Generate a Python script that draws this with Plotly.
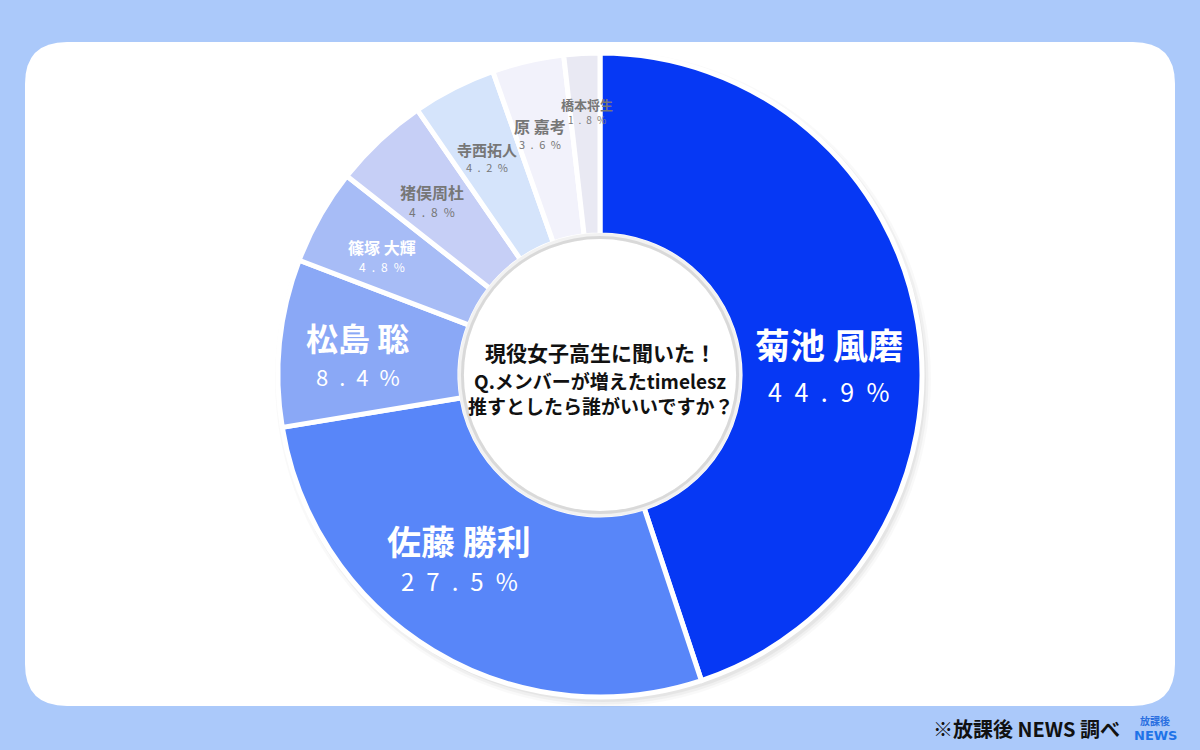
import math
import plotly.graph_objects as go

# ---- data ----
names = ["菊池 風磨", "佐藤 勝利", "松島 聡", "篠塚 大輝", "猪俣周杜", "寺西拓人", "原 嘉考", "橋本将生"]
shares = [44.9, 27.5, 8.4, 4.8, 4.8, 4.2, 3.6, 1.8]
center_lines = ["現役女子高生に聞いた！", "Q.メンバーが増えたtimelesz", "推すとしたら誰がいいですか？"]
source_note = "※放課後 NEWS 調べ"

# ---- style ----
colors = ["#0638f4", "#5886f9", "#8aa8f6", "#a7bcf6", "#c6cff6", "#d5e4fb", "#f2f2fb", "#e9e9f3"]
name_sizes = [35, 34, 32, 16, 16, 15, 16, 13]
pct_sizes = [25, 24, 22, 12, 12, 11, 11, 10]
text_colors = ["white", "white", "white", "white", "#777777", "#777777", "#777777", "#777777"]
label_r = [229, 233, 243, 248, 241, 244, 247, 263]
label_dtheta = [7.2, 6.0, -1.5, -1.1, -1.0, -0.6, -1.0, 0.4]
name_dy = [-24, -20, -20, -10, -10, -9, -9, -8]
pct_dy = [24, 20, 19, 10, 9, 8, 9, 7]

W, H = 1200, 750
CX, CY, R = 600, 375, 322
HOLE = 0.435
FONT = "Noto Sans CJK JP"
EN = "\u2002"


def spaced(s):
    return EN.join(list(s))


fig = go.Figure()
fig.add_trace(go.Pie(
    labels=names, values=shares, sort=False, direction="clockwise", rotation=0,
    hole=HOLE, marker=dict(colors=colors, line=dict(color="white", width=5)),
    textinfo="none", hoverinfo="label+percent", showlegend=False,
    domain=dict(x=[(CX - R) / W, (CX + R) / W], y=[1 - (CY + R) / H, 1 - (CY - R) / H]),
))

ann = []
total = sum(shares)
cum = 0.0
for i, v in enumerate(shares):
    mid = (cum + v / 2) / total * 360 + label_dtheta[i]
    cum += v
    px = CX + label_r[i] * math.sin(math.radians(mid))
    py = CY - label_r[i] * math.cos(math.radians(mid))
    ann.append(dict(x=px / W, y=1 - (py + name_dy[i]) / H, xref="paper", yref="paper",
                    text="<b>" + names[i] + "</b>", showarrow=False,
                    font=dict(family=FONT, size=name_sizes[i], color=text_colors[i]),
                    xanchor="center", yanchor="middle"))
    ann.append(dict(x=px / W, y=1 - (py + pct_dy[i]) / H, xref="paper", yref="paper",
                    text=spaced(f"{v:.1f}%"), showarrow=False,
                    font=dict(family=FONT, size=pct_sizes[i], color=text_colors[i]),
                    xanchor="center", yanchor="middle"))

for k, (line, yy, sz) in enumerate(zip(center_lines, [352, 380, 405], [21, 19, 19])):
    ann.append(dict(x=0.5, y=1 - yy / H, xref="paper", yref="paper", text="<b>" + line + "</b>",
                    showarrow=False, font=dict(family=FONT, size=sz, color="#111111"),
                    xanchor="center", yanchor="middle"))

ann.append(dict(x=1122 / W, y=1 - 728 / H, xref="paper", yref="paper", text="<b>" + source_note + "</b>",
                showarrow=False, font=dict(family=FONT, size=20, color="#111111"),
                xanchor="right", yanchor="middle"))
ann.append(dict(x=1155 / W, y=1 - 720 / H, xref="paper", yref="paper", text="<b>放課後</b>",
                showarrow=False, font=dict(family=FONT, size=10, color="#2a6fe0"),
                xanchor="center", yanchor="middle"))
ann.append(dict(x=1155 / W, y=1 - 735 / H, xref="paper", yref="paper", text="<b>NEWS</b>",
                showarrow=False, font=dict(family="DejaVu Sans", size=13, color="#1e73e8"),
                xanchor="center", yanchor="middle"))


def to_paper_path(x0, y0, x1, y1, rr):
    def X(v):
        return f"{v / W:.5f}"

    def Y(v):
        return f"{1 - v / H:.5f}"
    return (f"M {X(x0+rr)},{Y(y0)} L {X(x1-rr)},{Y(y0)} Q {X(x1)},{Y(y0)} {X(x1)},{Y(y0+rr)} "
            f"L {X(x1)},{Y(y1-rr)} Q {X(x1)},{Y(y1)} {X(x1-rr)},{Y(y1)} "
            f"L {X(x0+rr)},{Y(y1)} Q {X(x0)},{Y(y1)} {X(x0)},{Y(y1-rr)} "
            f"L {X(x0)},{Y(y0+rr)} Q {X(x0)},{Y(y0)} {X(x0+rr)},{Y(y0)} Z")


def circ(r, dx=0, dy=0, **kw):
    return dict(type="circle", xref="paper", yref="paper",
                x0=(CX + dx - r) / W, x1=(CX + dx + r) / W,
                y0=1 - (CY + dy + r) / H, y1=1 - (CY + dy - r) / H, **kw)


shapes = [
    dict(type="path", xref="paper", yref="paper", path=to_paper_path(25, 42, 1175, 706, 42),
         fillcolor="white", line=dict(width=0), layer="below"),
]
# soft shadow behind donut
for k, a in enumerate([0.025, 0.035, 0.045]):
    shapes.append(circ(R + 6 - k * 2.5, 3, 4, fillcolor=f"rgba(0,0,0,{a})", line=dict(width=0), layer="below"))
# white centre behind the hole
rh = R * HOLE
shapes.append(circ(rh + 2, fillcolor="white", line=dict(width=0), layer="below"))
# inner hole rim
for k, (w, c) in enumerate([(6, "rgba(0,0,0,0.05)"), (3, "rgba(0,0,0,0.10)")]):
    shapes.append(circ(rh - 1 - k * 1.5, fillcolor="rgba(0,0,0,0)", line=dict(width=w, color=c), layer="above"))

fig.update_layout(
    width=W, height=H, margin=dict(l=0, r=0, t=0, b=0),
    paper_bgcolor="#abc9fa", plot_bgcolor="#abc9fa",
    annotations=ann, shapes=shapes,
    font=dict(family=FONT),
)
fig.write_html("out.html", config={"displayModeBar": False},
               post_script="document.body.style.margin='0';document.body.style.overflow='hidden';")
